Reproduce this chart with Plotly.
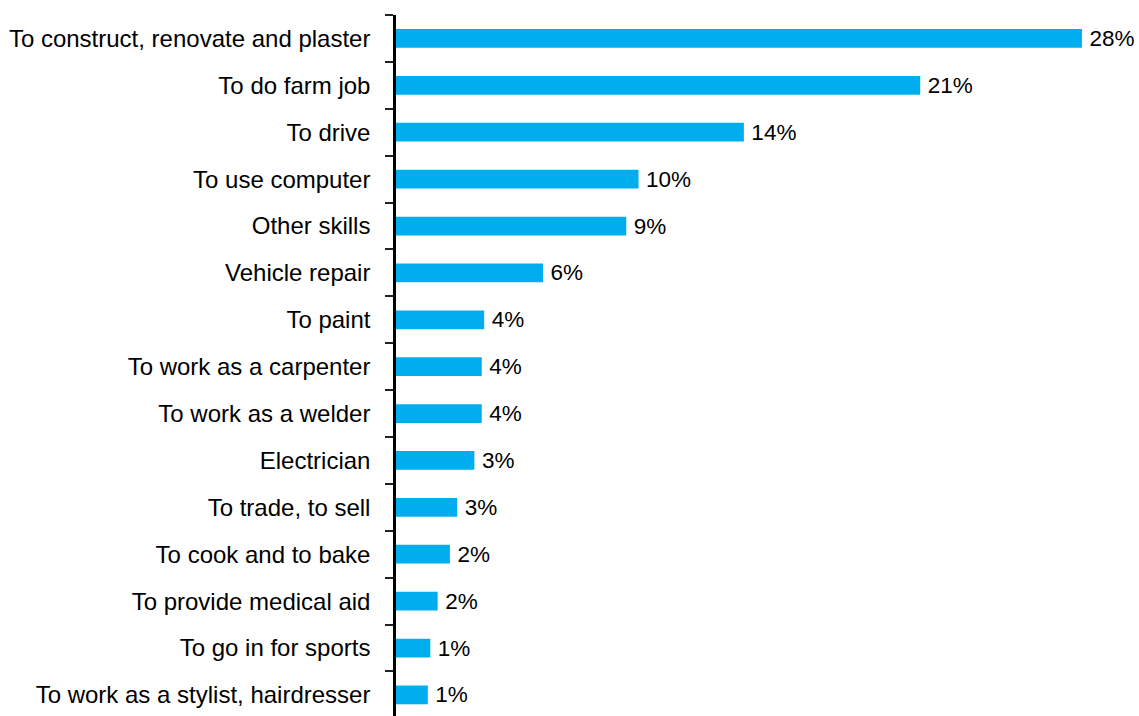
import plotly.graph_objects as go

# Skills respondents reported, top to bottom
skills = [
    "To construct, renovate and plaster",
    "To do farm job",
    "To drive",
    "To use computer",
    "Other skills",
    "Vehicle repair",
    "To paint",
    "To work as a carpenter",
    "To work as a welder",
    "Electrician",
    "To trade, to sell",
    "To cook and to bake",
    "To provide medical aid",
    "To go in for sports",
    "To work as a stylist, hairdresser",
]

# Share of respondents, %
shares = [28.0, 21.4, 14.2, 9.9, 9.4, 6.0, 3.6, 3.5, 3.5, 3.2, 2.5, 2.2, 1.7, 1.4, 1.3]

BAR_COLOR = "#00AEEF"
FONT = "Liberation Sans, Arial, sans-serif"

fig = go.Figure(
    go.Bar(
        x=shares,
        y=skills,
        orientation="h",
        width=0.4,
        marker=dict(color=BAR_COLOR, line=dict(width=0)),
        texttemplate="\u2009%{x:.0f}%",
        textposition="outside",
        textfont=dict(family=FONT, size=22.5, color="black"),
        constraintext="none",
        cliponaxis=False,
        hoverinfo="skip",
    )
)

fig.update_layout(
    width=1139,
    height=716,
    margin=dict(l=396, r=0, t=15, b=0),
    paper_bgcolor="white",
    plot_bgcolor="white",
    showlegend=False,
    font=dict(family=FONT, color="black"),
    xaxis=dict(
        range=[0, 30.33],
        visible=False,
        showgrid=False,
        zeroline=False,
    ),
    yaxis=dict(
        type="category",
        range=[14.45, -0.5],
        showline=True,
        linecolor="black",
        linewidth=2.5,
        ticks="outside",
        tickson="boundaries",
        ticklen=8,
        tickwidth=1.5,
        tickcolor="#222",
        ticklabelstandoff=18,
        tickfont=dict(family=FONT, size=24, color="black"),
        showgrid=False,
        zeroline=False,
    ),
)

fig.write_html("out.html")
